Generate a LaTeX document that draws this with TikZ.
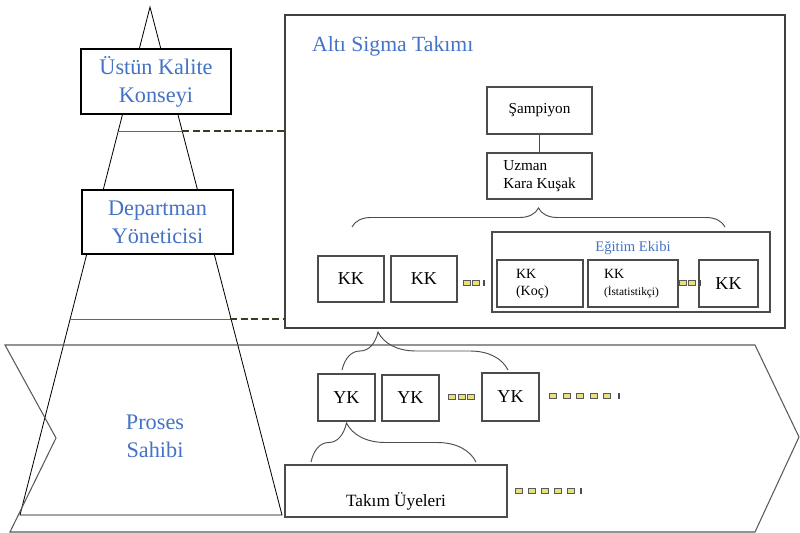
\documentclass[tikz,border=0pt]{standalone}
\usepackage{fontspec}
\setmainfont{Liberation Serif}
\usepackage{tikz}
\usetikzlibrary{decorations.pathreplacing}
\definecolor{unvan}{RGB}{68,114,196}
\definecolor{kesik}{RGB}{60,60,40}
\definecolor{sari}{RGB}{232,224,120}

\begin{document}
\begin{tikzpicture}[x=0.03cm,y=-0.03cm,
  kutu/.style={draw=black!70,line width=0.9pt,fill=white,inner sep=0pt},
  buyuk/.style={text=unvan,font=\fontsize{19}{24}\selectfont,align=center},
  yazi/.style={font=\fontsize{13}{15}\selectfont},
  kk/.style={kutu,font=\fontsize{15.5}{18}\selectfont},
  kume/.style={draw=black!70,line width=0.8pt,decorate},
  nokta/.style={draw=black!65,fill=sari,line width=0.7pt,minimum width=0.21cm,minimum height=0.17cm,inner sep=0pt},
  cizgi/.style={fill=black!70,minimum width=0.06cm,minimum height=0.18cm,inner sep=0pt}]

\useasboundingbox (0,0) rectangle (800,533);

\coordinate (tepe) at (150,7);
\coordinate (solalt) at (20,515);
\coordinate (sagalt) at (282,515);
\draw[line width=0.7pt] (solalt) -- (tepe) -- (sagalt) -- cycle;

\draw[black!65,line width=0.9pt] (5,345) -- (755,345) -- (799,437) -- (755,532) -- (10,532) -- (56,438) -- cycle;

\node[kutu,draw=black!75,line width=1.1pt,fill=none,minimum width=15cm,minimum height=9.39cm] (takim) at (535,171.5) {};
\node[text=unvan,font=\fontsize{18.5}{22}\selectfont,anchor=base west,inner sep=0pt] (baslik) at (312,51) {Altı Sigma Takımı};

\coordinate (c1sol) at (118,131);
\coordinate (c1sag) at (182,131);
\coordinate (c2sol) at (70,319);
\coordinate (c2sag) at (230,319);
\draw[black!60,line width=0.8pt] (c1sol) -- (c1sag);
\draw[black!60,line width=0.8pt] (c2sol) -- (c2sag);
\draw[kesik,line width=1.3pt,dash pattern=on 6pt off 3pt] (c1sag) -- (takim.west |- c1sag);
\draw[kesik,line width=1.3pt,dash pattern=on 6pt off 3pt] (c2sag) -- (takim.west |- c2sag);

\node[kutu,draw=black,minimum width=4.5cm,minimum height=1.95cm,buyuk] (ustun) at (156,81.5) {Üstün Kalite\\Konseyi};
\node[kutu,draw=black,minimum width=4.53cm,minimum height=1.92cm,buyuk] (departman) at (157.5,222) {Departman\\Yöneticisi};
\node[buyuk] (proses) at (155,436) {Proses\\Sahibi};

\node[kutu,minimum width=3.15cm,minimum height=1.41cm,yazi] (sampiyon) at (539.5,110.5) {Şampiyon};
\node[kutu,minimum width=3.15cm,minimum height=1.38cm,yazi,align=left] (uzman) at (539.5,176) {Uzman\\Kara Kuşak};
\draw[black!70,line width=0.9pt] (sampiyon) -- (uzman);

\coordinate (k1sol) at (352,227);
\coordinate (k1sag) at (725,227);
\draw[kume,decoration={brace,amplitude=0.57cm}] (k1sol) -- (k1sag);

\node[kk,minimum width=1.98cm,minimum height=1.38cm] (kk1) at (351,279) {KK};
\node[kk,minimum width=1.98cm,minimum height=1.38cm] (kk2) at (424,279) {KK};
\node[kutu,fill=none,line width=1.1pt,minimum width=8.34cm,minimum height=2.4cm] (egitim) at (631,272) {};
\node[text=unvan,font=\fontsize{12.5}{15}\selectfont] (egitimad) at (633,248) {Eğitim Ekibi};
\node[kutu,minimum width=2.58cm,minimum height=1.41cm,align=left,text width=1.44cm,font=\fontsize{12}{14.5}\selectfont] (koc) at (540,283.5) {KK\\(Koç)};
\node[kutu,minimum width=2.7cm,minimum height=1.41cm,align=left,text width=1.74cm,font=\fontsize{12}{14.5}\selectfont] (istat) at (633,283.5) {KK\\{\fontsize{9.7}{12}\selectfont(İstatistikçi)}};
\node[kk,minimum width=1.77cm,minimum height=1.41cm] (kk5) at (728.5,283.5) {KK};

\node[kk,minimum width=1.71cm,minimum height=1.41cm] (yk1) at (346.5,397.5) {YK};
\node[kk,minimum width=1.71cm,minimum height=1.38cm] (yk2) at (410.5,398) {YK};
\node[kk,minimum width=1.71cm,minimum height=1.44cm] (yk3) at (510.5,397) {YK};

\coordinate (k2sol) at (342,370);
\coordinate (k2sag) at (508,370);
\draw[kume,decoration={brace,amplitude=1.14cm,aspect=0.217}] (k2sol) -- (k2sag);

\node[kutu,minimum width=6.66cm,minimum height=1.56cm] (uyeler) at (396,491) {};
\node[font=\fontsize{14.7}{17}\selectfont] (uyeleryazi) at (396,501) {Takım Üyeleri};

\coordinate (k3sol) at (311,462);
\coordinate (k3sag) at (476,462);
\draw[kume,decoration={brace,amplitude=1.17cm,aspect=0.215}] (k3sol) -- (k3sag);

\foreach \x [count=\i] in {467,476} \node[nokta] (na\i) at (\x,283) {};
\node[cizgi] (ta) at (484,283) {};
\foreach \x [count=\i] in {683,692} \node[nokta] (nb\i) at (\x,283) {};
\node[cizgi] (tb) at (700,283) {};
\foreach \x [count=\i] in {452,462,471} \node[nokta] (nc\i) at (\x,397) {};
\foreach \x [count=\i] in {553,567,580,594,607} \node[nokta] (nd\i) at (\x,396) {};
\node[cizgi] (td) at (619,396) {};
\foreach \x [count=\i] in {519,532,545,558,571} \node[nokta] (ne\i) at (\x,491) {};
\node[cizgi] (te) at (581,491) {};
\end{tikzpicture}
\end{document}
